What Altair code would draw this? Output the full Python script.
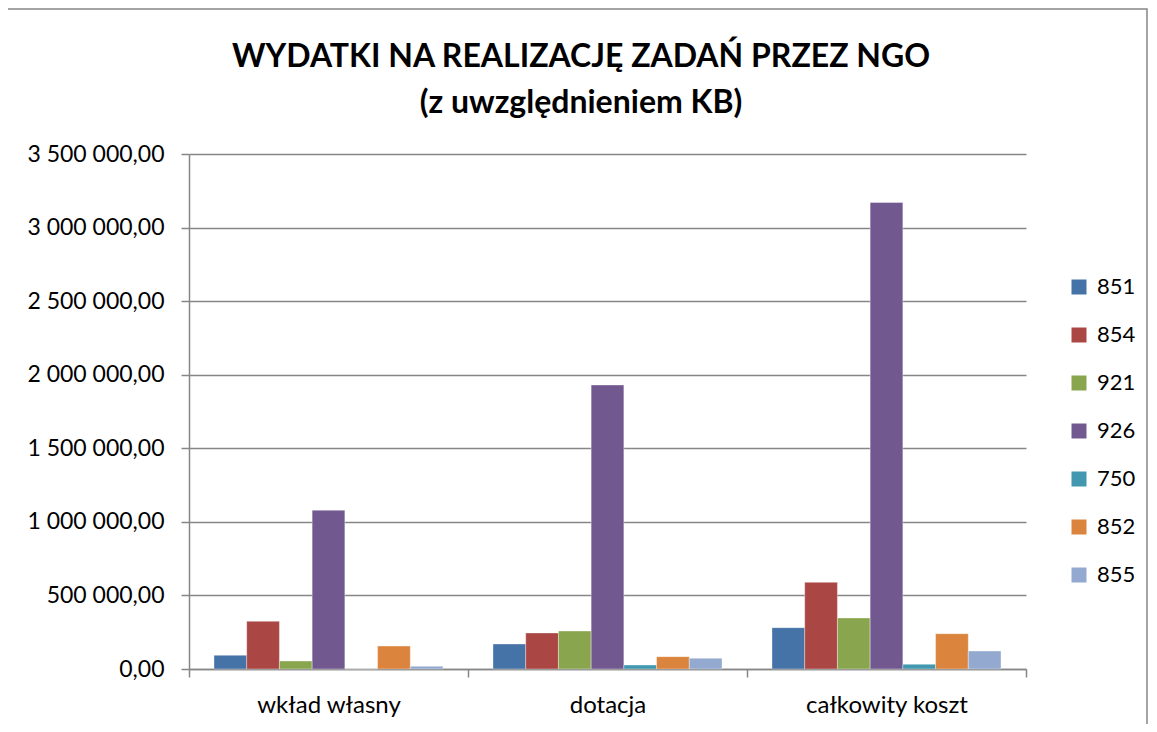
import altair as alt
import pandas as pd

categories = ["wkład własny", "dotacja", "całkowity koszt"]
series = ["851", "854", "921", "926", "750", "852", "855"]
colors = ["#4572A7", "#AA4643", "#89A54E", "#71588F", "#4198AF", "#DB843D", "#93A9CF"]

v851 = [93000, 170000, 281000]
v854 = [324000, 245000, 589000]
v921 = [54000, 258000, 347000]
v926 = [1079000, 1930000, 3170000]
v750 = [0, 27000, 32000]
v852 = [156000, 84000, 240000]
v855 = [18000, 73000, 122000]

y_ticks = [0, 500000, 1000000, 1500000, 2000000, 2500000, 3000000, 3500000]
title_lines = ["WYDATKI NA REALIZACJĘ ZADAŃ PRZEZ NGO", "(z uwzględnieniem KB)"]

values = {"851": v851, "854": v854, "921": v921, "926": v926,
          "750": v750, "852": v852, "855": v855}
rows = []
for s in series:
    for c, v in zip(categories, values[s]):
        rows.append({"kategoria": c, "seria": s, "wartosc": v})
df = pd.DataFrame(rows)

FONT = "Lato"
GRAY = "#868686"

bars = alt.Chart(df).mark_bar(stroke="white", strokeWidth=0.6, strokeOpacity=0.6).encode(
    x=alt.X("kategoria:N", sort=categories,
            scale=alt.Scale(paddingInner=0, paddingOuter=0),
            axis=alt.Axis(title=None, labelAngle=0, labelFontSize=24, labelFont=FONT,
                          labelColor="black", tickBand="extent", tickSize=8,
                          tickColor=GRAY, tickWidth=1.5, domainColor=GRAY, domainWidth=1.5,
                          labelPadding=16, grid=False)),
    xOffset=alt.XOffset("seria:N", sort=series,
                        scale=alt.Scale(paddingOuter=0.764, paddingInner=0)),
    y=alt.Y("wartosc:Q", scale=alt.Scale(domain=[0, 3500000], nice=False),
            axis=alt.Axis(title=None, values=y_ticks, format=",.2f", labelFontSize=23,
                          labelFont=FONT, labelColor="black", tickSize=8, tickColor=GRAY,
                          tickWidth=1.5, domainColor=GRAY, domainWidth=1.5, gridColor=GRAY,
                          gridWidth=1.5, labelPadding=17)),
    color=alt.Color("seria:N", scale=alt.Scale(domain=series, range=colors),
                    sort=series,
                    legend=alt.Legend(title=None, orient="none", legendX=879, legendY=122,
                                      symbolType="square", symbolSize=225,
                                      symbolStrokeWidth=0, labelFontSize=22, labelFont=FONT,
                                      labelColor="black", rowPadding=26, labelOffset=7)),
)

frame = alt.Chart(pd.DataFrame({"f": [0]})).mark_rect(
    fill="white", fillOpacity=0, stroke=GRAY, strokeWidth=1.5
).encode(x=alt.value(-182), x2=alt.value(958), y=alt.value(-145), y2=alt.value(620))

title = alt.Chart(pd.DataFrame({"f": [0]})).mark_text(
    text=title_lines, font=FONT, fontSize=32, fontWeight="bold", color="black",
    align="center", baseline="alphabetic", lineHeight=46
).encode(x=alt.value(392), y=alt.value(-87))

chart = alt.layer(frame, bars, title).properties(
    width=837,
    height=515,
    autosize="none",
    padding={"left": 181, "top": 146, "right": 123, "bottom": 55},
).configure(
    locale={"number": {"decimal": ",", "thousands": " ", "grouping": [3],
                       "currency": ["", " zł"]}}
).configure_view(strokeWidth=0)

chart.save("out.html", embed_options={"renderer": "svg", "actions": False})
